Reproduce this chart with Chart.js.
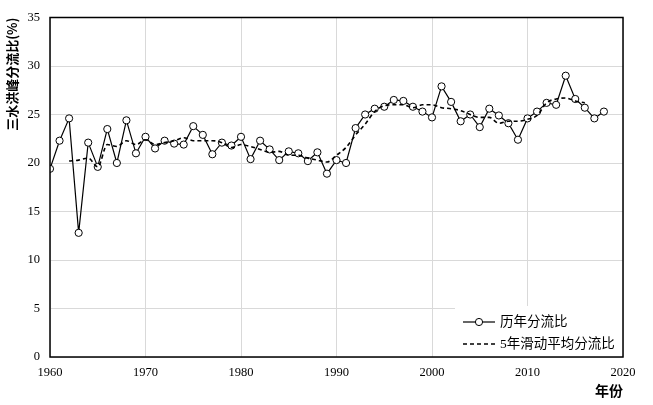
<!DOCTYPE html>
<html>
<head>
<meta charset="utf-8">
<script src="https://cdn.jsdelivr.net/npm/chart.js@4"></script>
<style>
  html, body { margin: 0; padding: 0; background: #fff; }
  #wrap { width: 653px; height: 405px; }
</style>
</head>
<body>
<div id="wrap"><canvas id="myChart" width="653" height="405"></canvas></div>
<script>
const years = [1960, 1961, 1962, 1963, 1964, 1965, 1966, 1967, 1968, 1969,
  1970, 1971, 1972, 1973, 1974, 1975, 1976, 1977, 1978, 1979,
  1980, 1981, 1982, 1983, 1984, 1985, 1986, 1987, 1988, 1989,
  1990, 1991, 1992, 1993, 1994, 1995, 1996, 1997, 1998, 1999,
  2000, 2001, 2002, 2003, 2004, 2005, 2006, 2007, 2008, 2009,
  2010, 2011, 2012, 2013, 2014, 2015, 2016, 2017, 2018];

const ratio = [19.4, 22.3, 24.6, 12.8, 22.1, 19.6, 23.5, 20.0, 24.4, 21.0,
  22.7, 21.5, 22.3, 22.0, 21.9, 23.8, 22.9, 20.9, 22.1, 21.8,
  22.7, 20.4, 22.3, 21.4, 20.3, 21.2, 21.0, 20.2, 21.1, 18.9,
  20.3, 20.0, 23.6, 25.0, 25.6, 25.8, 26.5, 26.4, 25.8, 25.3,
  24.7, 27.9, 26.3, 24.3, 25.0, 23.7, 25.6, 24.9, 24.1, 22.4,
  24.6, 25.3, 26.2, 26.0, 29.0, 26.6, 25.7, 24.6, 25.3];

const maYears = [1962, 1963, 1964, 1965, 1966, 1967, 1968, 1969,
  1970, 1971, 1972, 1973, 1974, 1975, 1976, 1977, 1978, 1979,
  1980, 1981, 1982, 1983, 1984, 1985, 1986, 1987, 1988, 1989,
  1990, 1991, 1992, 1993, 1994, 1995, 1996, 1997, 1998, 1999,
  2000, 2001, 2002, 2003, 2004, 2005, 2006, 2007, 2008, 2009,
  2010, 2011, 2012, 2013, 2014, 2015, 2016];

const maRatio = [20.2, 20.3, 20.5, 19.6, 21.9, 21.7, 22.3, 21.9,
  22.4, 21.9, 22.1, 22.3, 22.6, 22.3, 22.3, 22.3, 22.1, 21.6,
  21.9, 21.7, 21.4, 21.1, 21.2, 20.8, 20.8, 20.5, 20.3, 20.1,
  20.8, 21.6, 22.9, 24.0, 25.3, 25.9, 26.0, 26.0, 25.7, 26.0,
  26.0, 25.7, 25.6, 25.4, 25.0, 24.7, 24.7, 24.1, 24.3, 24.3,
  24.5, 24.9, 26.2, 26.6, 26.7, 26.4, 26.2];

const seriesLabels = ["历年分流比", "5年滑动平均分流比"];
const yTitle = "三水洪峰分流比(%)";
const xTitle = "年份";

const serif = "'Liberation Serif', 'Times New Roman', 'Noto Sans CJK SC', serif";
const cjk = "'Noto Sans CJK SC', sans-serif";

// frame round the plot area
const framePlugin = {
  id: "frame",
  afterDraw(chart) {
    const { ctx, chartArea: a } = chart;
    ctx.save();
    ctx.strokeStyle = "#000";
    ctx.lineWidth = 1.5;
    ctx.strokeRect(a.left, a.top, a.right - a.left, a.bottom - a.top);
    ctx.restore();
  },
};

// legend box in the lower right corner of the plot
const legendPlugin = {
  id: "boxLegend",
  beforeDatasetsDraw(chart) {
    const { ctx, chartArea: a } = chart;
    const x0 = 455, y0 = 306;
    ctx.save();
    ctx.fillStyle = "#fff";
    ctx.fillRect(x0, y0, a.right - x0, a.bottom - y0);

    const rows = [322, 344];
    chart.data.datasets.forEach((ds, i) => {
      const y = rows[i];
      ctx.strokeStyle = "#000";
      ctx.lineWidth = ds.borderWidth;
      ctx.setLineDash(ds.borderDash || []);
      ctx.beginPath();
      ctx.moveTo(463, y);
      ctx.lineTo(495, y);
      ctx.stroke();
      ctx.setLineDash([]);
      if (ds.pointRadius > 0) {
        ctx.beginPath();
        ctx.arc(479, y, ds.pointRadius, 0, Math.PI * 2);
        ctx.fillStyle = "#fff";
        ctx.fill();
        ctx.lineWidth = 1;
        ctx.stroke();
      }
      ctx.fillStyle = "#000";
      ctx.font = "13.5px " + serif;
      ctx.textBaseline = "middle";
      ctx.fillText(ds.label, 500, y);
    });
    ctx.restore();
  },
};

new Chart(document.getElementById("myChart"), {
  type: "line",
  data: {
    datasets: [
      {
        label: seriesLabels[0],
        data: years.map((y, i) => ({ x: y, y: ratio[i] })),
        borderColor: "#000",
        borderWidth: 1.2,
        pointRadius: 3.6,
        pointBorderWidth: 1,
        pointBackgroundColor: "#fff",
        pointBorderColor: "#000",
        tension: 0,
        order: 1,
      },
      {
        label: seriesLabels[1],
        data: maYears.map((y, i) => ({ x: y, y: maRatio[i] })),
        borderColor: "#000",
        borderWidth: 1.6,
        borderDash: [4, 3],
        pointRadius: 0,
        cubicInterpolationMode: "monotone",
        order: 0,
      },
    ],
  },
  options: {
    responsive: false,
    animation: false,
    layout: { padding: { top: 16, right: 30, left: 0, bottom: 0 } },
    plugins: {
      legend: { display: false },
      tooltip: { enabled: false },
    },
    scales: {
      x: {
        type: "linear",
        min: 1960,
        max: 2020,
        afterFit: (s) => { s.height = 48; },
        ticks: {
          stepSize: 10,
          padding: 8,
          color: "#000",
          font: { family: serif, size: 12.5 },
          callback: (v) => String(v),
        },
        grid: { color: "#d9d9d9", lineWidth: 1, drawTicks: false },
        border: { display: false },
        title: {
          display: true,
          text: xTitle,
          align: "end",
          color: "#000",
          font: { family: cjk, size: 14, weight: "bold" },
          padding: { top: 0, bottom: 6 },
        },
      },
      y: {
        min: 0,
        max: 35,
        afterFit: (s) => { s.width = 50; },
        ticks: {
          stepSize: 5,
          padding: 10,
          color: "#000",
          font: { family: serif, size: 12.5 },
        },
        grid: { color: "#d9d9d9", lineWidth: 1, drawTicks: false },
        border: { display: false },
        title: {
          display: true,
          text: yTitle,
          align: "end",
          color: "#000",
          font: { family: cjk, size: 13, weight: "bold" },
          padding: { top: 4, bottom: 0 },
        },
      },
    },
  },
  plugins: [legendPlugin, framePlugin],
});
</script>
</body>
</html>
